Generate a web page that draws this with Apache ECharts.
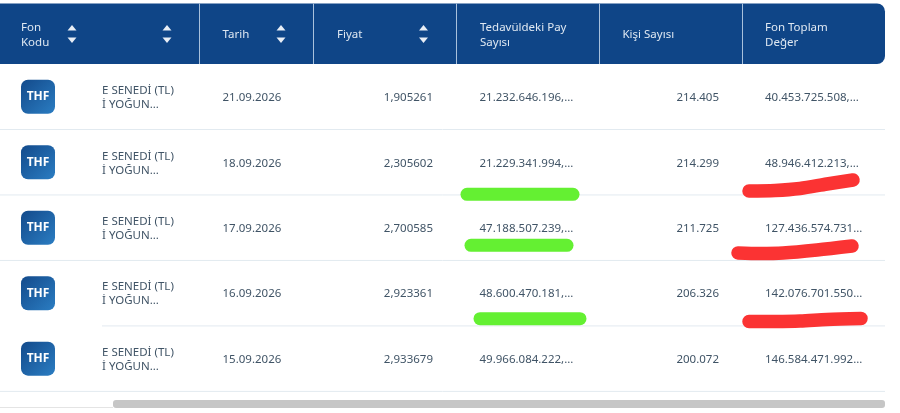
<!DOCTYPE html>
<html>
<head>
<meta charset="utf-8">
<style>html,body{margin:0;padding:0;background:#fff}#main{width:900px;height:413px}</style>
<script src="https://cdn.jsdelivr.net/npm/echarts@6/dist/echarts.min.js"></script>
</head>
<body>
<div id="main"></div>
<script>
// tablo verileri
var fundCodes = ['THF', 'THF', 'THF', 'THF', 'THF'];
var fundNames = ['E SENEDİ (TL)\nİ YOĞUN...', 'E SENEDİ (TL)\nİ YOĞUN...', 'E SENEDİ (TL)\nİ YOĞUN...', 'E SENEDİ (TL)\nİ YOĞUN...', 'E SENEDİ (TL)\nİ YOĞUN...'];
var dates = ['21.09.2026', '18.09.2026', '17.09.2026', '16.09.2026', '15.09.2026'];
var prices = ['1,905261', '2,305602', '2,700585', '2,923361', '2,933679'];
var shares = ['21.232.646.196,...', '21.229.341.994,...', '47.188.507.239,...', '48.600.470.181,...', '49.966.084.222,...'];
var holders = ['214.405', '214.299', '211.725', '206.326', '200.072'];
var totals = ['40.453.725.508,...', '48.946.412.213,...', '127.436.574.731...', '142.076.701.550...', '146.584.471.992...'];

var headers = [
    {text: 'Fon\nKodu', x: 21},
    {text: 'Tarih', x: 222.5},
    {text: 'Fiyat', x: 337},
    {text: 'Tedavüldeki Pay\nSayısı', x: 480},
    {text: 'Kişi Sayısı', x: 622.5},
    {text: 'Fon Toplam\nDeğer', x: 765}
];
var dividers = [199.5, 313.5, 456.5, 599.5, 742.5];
var sortArrows = [72, 167, 281, 423.5];

// elle cizilmis isaretler
var greenMarks = [
    [[467, 194.3], [573, 194.3]],
    [[471, 245.3], [567, 245.3]],
    [[480, 318.7], [580, 318.7]]
];
var redMarks = [
    [[749, 191], [775, 190.5], [800, 188.5], [827, 184], [853, 180]],
    [[738, 253], [760, 253.5], [783, 253], [817, 250], [852, 246]],
    [[749, 321.5], [775, 321.5], [800, 321], [827, 319.5], [861, 318.5]]
];

var FONT = '"Noto Sans", "Open Sans", sans-serif';
var TEXT = '#405466';
var HEAD = '#0f4587';

var chart = echarts.init(document.getElementById('main'));

function cellText(x, y, s, align) {
    return {
        type: 'text',
        style: {x: x, y: y + 1, text: s, fill: TEXT, font: '11.5px ' + FONT, textAlign: align || 'left', textVerticalAlign: 'middle', lineHeight: 14}
    };
}

function renderRow(params, api) {
    var i = api.value(0);
    var band = api.size([0, 1])[1];
    var y = api.coord([0, i])[1];
    var bottom = y + band / 2;
    return {
        type: 'group',
        children: [
            {
                type: 'line',
                shape: {x1: i === 3 ? 102 : 0, y1: bottom, x2: 885, y2: bottom},
                style: {stroke: '#e2eaf0', lineWidth: 1}
            },
            {
                type: 'rect',
                shape: {x: 21, y: y - 17, width: 34, height: 34, r: 7},
                style: {
                    fill: new echarts.graphic.LinearGradient(0, 0, 1, 1, [
                        {offset: 0, color: '#134a8b'},
                        {offset: 1, color: '#2b7dc2'}
                    ])
                }
            },
            {
                type: 'text',
                style: {x: 38, y: y, text: fundCodes[i], fill: '#fff', font: 'bold 12px ' + FONT, textAlign: 'center', textVerticalAlign: 'middle'}
            },
            cellText(102, y, fundNames[i]),
            cellText(222.5, y, dates[i]),
            cellText(433, y, prices[i], 'right'),
            cellText(479.5, y, shares[i]),
            cellText(719, y, holders[i], 'right'),
            cellText(765, y, totals[i])
        ]
    };
}

var graphics = [
    {type: 'rect', z: 1, shape: {x: 0, y: 3.5, width: 885, height: 60.5, r: [0, 8, 8, 0]}, style: {fill: HEAD}},
    {type: 'rect', z: 1, shape: {x: 113, y: 400, width: 772, height: 8, r: 3}, style: {fill: '#c6c6c6'}},
    {type: 'line', z: 1, shape: {x1: 0, y1: 407.5, x2: 113, y2: 407.5}, style: {stroke: '#e4e4e4', lineWidth: 1}}
];
dividers.forEach(function (x) {
    graphics.push({type: 'line', z: 2, shape: {x1: x, y1: 3.5, x2: x, y2: 64}, style: {stroke: '#a9c1dc', lineWidth: 1}});
});
headers.forEach(function (h) {
    graphics.push({
        type: 'text', z: 2,
        style: {x: h.x, y: 35, text: h.text, fill: '#dfe8f2', font: '11.5px ' + FONT, textVerticalAlign: 'middle', lineHeight: 15.5}
    });
});
sortArrows.forEach(function (x) {
    graphics.push({type: 'polygon', z: 2, shape: {points: [[x - 4.5, 30.5], [x + 4.5, 30.5], [x, 25]]}, style: {fill: '#e8eef6'}});
    graphics.push({type: 'polygon', z: 2, shape: {points: [[x - 4.5, 37.5], [x + 4.5, 37.5], [x, 43]]}, style: {fill: '#e8eef6'}});
});
greenMarks.forEach(function (p) {
    graphics.push({type: 'polyline', z: 5, shape: {points: p}, style: {stroke: '#64f032', lineWidth: 13, lineCap: 'round', fill: null}});
});
redMarks.forEach(function (p) {
    graphics.push({type: 'polyline', z: 5, shape: {points: p, smooth: 0.3}, style: {stroke: '#fb3333', lineWidth: 13.5, lineCap: 'round', lineJoin: 'round', fill: null}});
});

var option = {
    animation: false,
    backgroundColor: '#fff',
    grid: {left: 0, right: 0, top: 64, height: 327.4},
    xAxis: {type: 'value', min: 0, max: 900, show: false},
    yAxis: {type: 'category', inverse: true, show: false, data: dates},
    graphic: graphics,
    series: [{
        type: 'custom',
        silent: true,
        coordinateSystem: 'cartesian2d',
        encode: {x: 1, y: 0},
        data: dates.map(function (d, i) { return [i, 0]; }),
        renderItem: renderRow
    }]
};
chart.setOption(option);
</script>
</body>
</html>
